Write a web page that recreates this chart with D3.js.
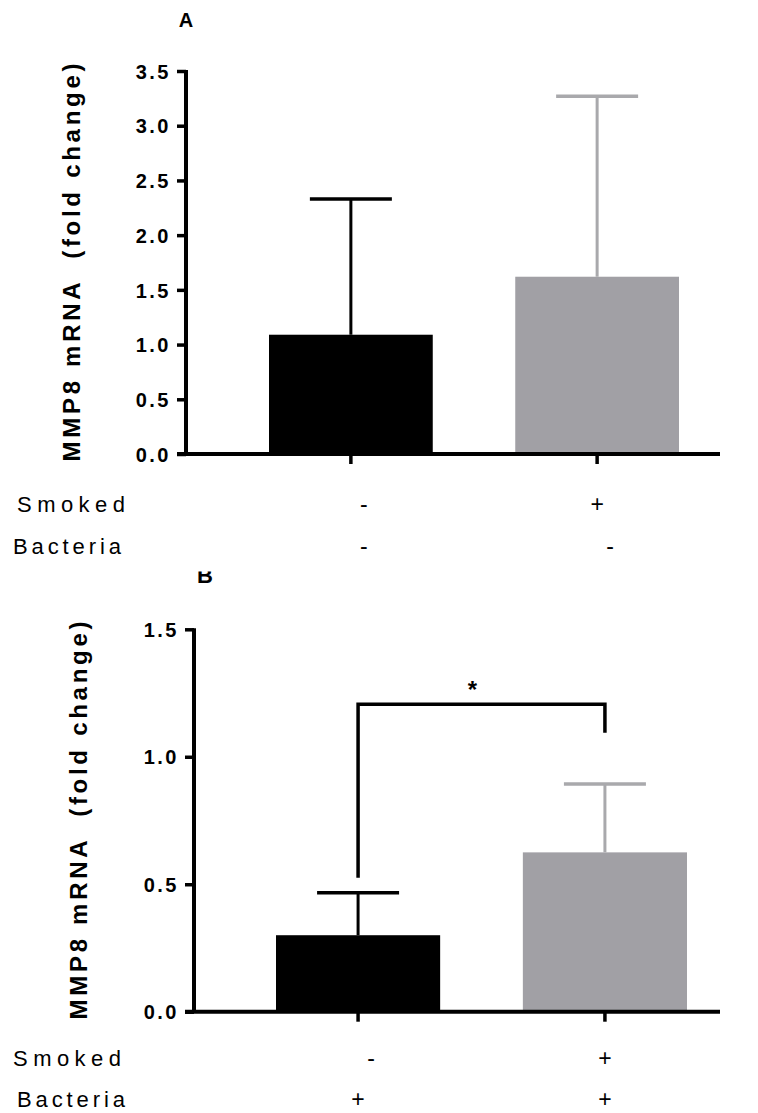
<!DOCTYPE html>
<html>
<head>
<meta charset="utf-8">
<script src="https://cdn.jsdelivr.net/npm/d3@7"></script>
<style>
  html, body { margin: 0; padding: 0; background: #fff; }
  svg { display: block; }
  text { font-family: "Liberation Sans", Arial, sans-serif; fill: #000; }
</style>
</head>
<body>
<svg id="chart" width="758" height="1113"></svg>
<script>
// ---- data ----
const groups = ["g1", "g2"];
const panelA_means = [1.09, 1.62];
const panelA_sd = [1.24, 1.65];           // upper error (mean + sd reaches 2.33, 3.27)
const panelB_means = [0.30, 0.625];
const panelB_sd = [0.167, 0.268];         // upper error (reaches 0.467, 0.893)
const panelA_ticks = [0, 0.5, 1.0, 1.5, 2.0, 2.5, 3.0, 3.5];
const panelB_ticks = [0, 0.5, 1.0, 1.5];
const panelA_smoked = ["-", "+"];
const panelA_bacteria = ["-", "-"];
const panelB_smoked = ["-", "+"];
const panelB_bacteria = ["+", "+"];
const rowLabels = ["Smoked", "Bacteria"];
const yLabel = "MMP8 mRNA  (fold change)";
const sigBracket = [0.525, 1.206, 1.094];  // left end, top, right end (data units)
const sigText = "*";
const panelTitles = ["A", "B"];

const barColors = ["#000000", "#a1a0a5"];
const whiskerColors = ["#000000", "#a9a9ac"];

const svg = d3.select("#chart");

// clip for the partly hidden "B" title
const defs = svg.append("defs");
const cp = defs.append("clipPath").attr("id", "clipB");
cp.append("rect").attr("x", 180).attr("y", 560).attr("width", 50).attr("height", 7.3);
cp.append("rect").attr("x", 180).attr("y", 571.5).attr("width", 50).attr("height", 20);

function panel(cfg) {
  const g = svg.append("g");
  const y = d3.scaleLinear().domain([0, cfg.max]).range([cfg.y0, cfg.y1]);
  const x = d3.scaleBand().domain(groups).range(cfg.xr).paddingInner(0.335).paddingOuter(0);
  const bw = x.bandwidth();

  // bars
  g.selectAll("rect.bar").data(groups).join("rect")
    .attr("class", "bar")
    .attr("x", d => x(d))
    .attr("width", bw)
    .attr("y", (d, i) => y(cfg.means[i]))
    .attr("height", (d, i) => y(0) - y(cfg.means[i]))
    .attr("fill", (d, i) => barColors[i]);

  // error bars (upper only)
  groups.forEach((d, i) => {
    const cx = x(d) + bw / 2;
    const top = y(cfg.means[i] + cfg.sd[i]);
    g.append("line").attr("x1", cx).attr("x2", cx)
      .attr("y1", y(cfg.means[i])).attr("y2", top)
      .attr("stroke", whiskerColors[i]).attr("stroke-width", 3);
    g.append("line").attr("x1", cx - 41).attr("x2", cx + 41)
      .attr("y1", top).attr("y2", top)
      .attr("stroke", whiskerColors[i]).attr("stroke-width", 3.5);
  });

  // y axis
  const yAxis = d3.axisLeft(y).tickValues(cfg.ticks).tickFormat(d3.format(".1f"))
    .tickSize(9).tickPadding(6);
  const ya = g.append("g").attr("transform", `translate(${cfg.xAxis},0)`).call(yAxis);
  ya.attr("font-size", null).attr("font-family", null);
  ya.select(".domain").attr("stroke", "#000").attr("stroke-width", 4)
    .attr("d", `M0,${cfg.y1 - 1}V${cfg.y0}`);
  ya.selectAll(".tick line").attr("stroke", "#000").attr("stroke-width", 3.5);
  ya.selectAll(".tick text")
    .attr("fill", "#000")
    .style("font-size", "20px").style("font-weight", "bold")
    .style("letter-spacing", "2.5px")
    .style("font-family", "'Liberation Sans', Arial, sans-serif")
    .attr("dy", "0.36em");

  // x axis line
  g.append("line").attr("x1", cfg.xAxis - 9).attr("x2", 720)
    .attr("y1", cfg.y0).attr("y2", cfg.y0)
    .attr("stroke", "#000").attr("stroke-width", 4);
  // x ticks
  g.selectAll("line.xt").data(groups).join("line")
    .attr("class", "xt")
    .attr("x1", d => x(d) + bw / 2).attr("x2", d => x(d) + bw / 2)
    .attr("y1", cfg.y0).attr("y2", cfg.y0 + 10)
    .attr("stroke", "#000").attr("stroke-width", 3.5);

  // y label
  g.append("text")
    .attr("transform", `translate(${cfg.labelX},${(cfg.y0 + cfg.y1) / 2}) rotate(-90)`)
    .attr("text-anchor", "middle")
    .style("font-size", "24px").style("font-weight", "bold")
    .attr("textLength", 398).attr("lengthAdjust", "spacing")
    .style("white-space", "pre")
    .text(yLabel);

  // row labels
  rowLabels.forEach((lab, r) => {
    g.append("text").attr("x", cfg.rowX[r]).attr("y", cfg.rowY[r])
      .style("font-size", "22px")
      .attr("textLength", 108).attr("lengthAdjust", "spacing")
      .text(lab);
    const vals = r === 0 ? cfg.smoked : cfg.bacteria;
    vals.forEach((v, i) => {
      const cx = x(groups[i]) + bw / 2 + (v === "-" ? 13 : 0);
      g.append("text").attr("x", cx).attr("y", cfg.rowY[r])
        .attr("text-anchor", "middle").style("font-size", "23px")
        .text(v);
    });
  });
  return { x, y, bw, g };
}

// Panel A
const pA = panel({
  max: 3.5, y0: 454, y1: 71, xr: [269, 679], xAxis: 186,
  means: panelA_means, sd: panelA_sd, ticks: panelA_ticks,
  labelX: 80, rowX: [17, 13], rowY: [512, 554],
  smoked: panelA_smoked, bacteria: panelA_bacteria
});
svg.append("text").attr("x", 186).attr("y", 27).attr("text-anchor", "middle")
  .style("font-size", "20px").style("font-weight", "bold").text(panelTitles[0]);

// Panel B
const pB = panel({
  max: 1.5, y0: 1011.7, y1: 629.3, xr: [276, 687], xAxis: 194,
  means: panelB_means, sd: panelB_sd, ticks: panelB_ticks,
  labelX: 87, rowX: [13, 17], rowY: [1065.5, 1106.5],
  smoked: panelB_smoked, bacteria: panelB_bacteria
});
svg.append("text").attr("x", 205).attr("y", 582.5).attr("text-anchor", "middle")
  .style("font-size", "22px").style("font-weight", "bold")
  .attr("clip-path", "url(#clipB)").text(panelTitles[1]);

// significance bracket in panel B
{
  const { x, y, bw, g } = pB;
  const xl = x(groups[0]) + bw / 2, xr = x(groups[1]) + bw / 2;
  const path = d3.path();
  path.moveTo(xl, y(sigBracket[0]));
  path.lineTo(xl, y(sigBracket[1]));
  path.lineTo(xr, y(sigBracket[1]));
  path.lineTo(xr, y(sigBracket[2]));
  g.append("path").attr("d", path.toString()).attr("fill", "none")
    .attr("stroke", "#000").attr("stroke-width", 3.5);
  g.append("text").attr("x", (xl + xr) / 2 - 9).attr("y", y(sigBracket[1]) - 6)
    .attr("text-anchor", "middle").style("font-size", "24px").style("font-weight", "bold")
    .text(sigText);
}
</script>
</body>
</html>
